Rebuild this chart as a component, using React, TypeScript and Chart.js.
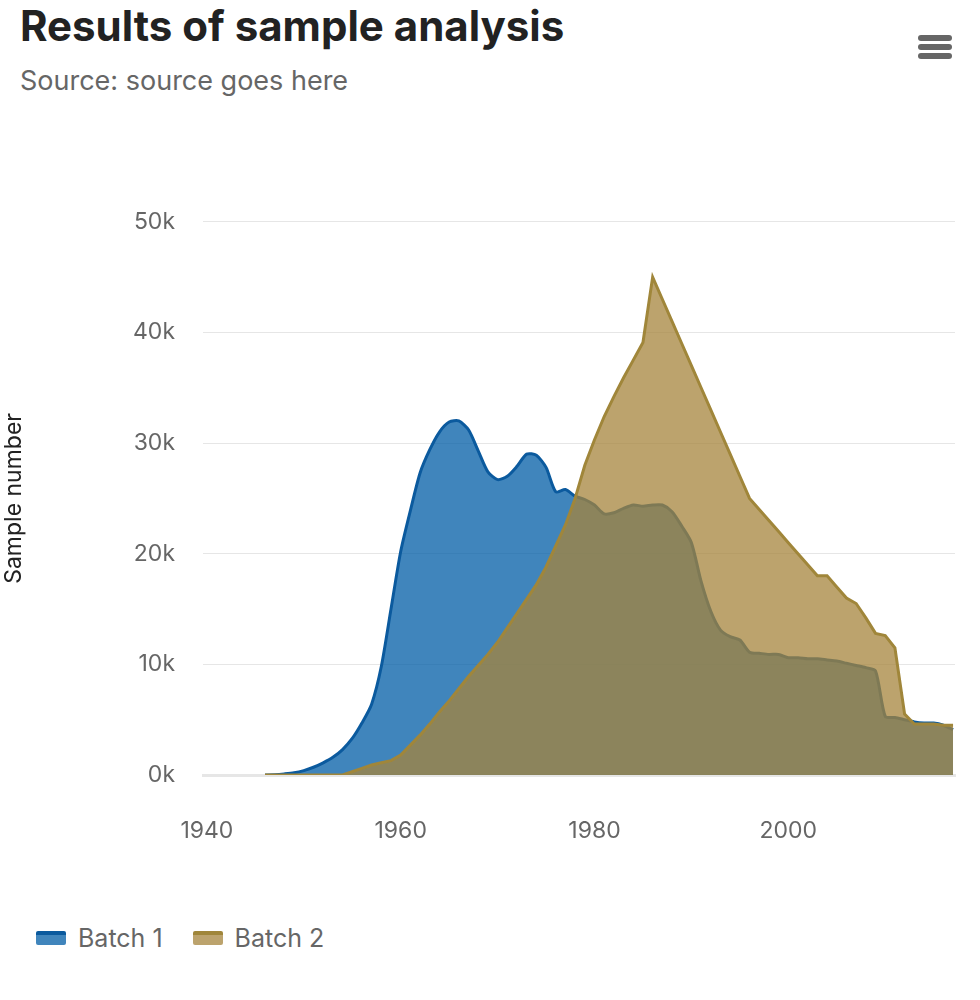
import { useEffect, useRef } from "react";
import { Chart, registerables } from "chart.js";

Chart.register(...registerables);

const years = Array.from({ length: 72 }, (_, i) => 1946 + i);

const batch1 = [
  0, 30, 100, 200, 400, 700, 1100, 1600, 2300, 3300, 4700, 6400, 9800, 15000,
  20200, 23900, 27300, 29400, 31000, 31900, 32000, 31200, 29300, 27400, 26700,
  27000, 27900, 29000, 28900, 27800, 25600, 25800, 25200, 24900, 24400, 23600,
  23700, 24100, 24400, 24300, 24400, 24400, 23800, 22500, 21000, 17500, 14800,
  13100, 12500, 12200, 11100, 11000, 10900, 10900, 10600, 10600, 10500, 10500,
  10400, 10300, 10100, 9900, 9700, 9400, 5300, 5200, 5000, 4800, 4700, 4700,
  4500, 4100
];

const batch2 = [
  0, 0, 0, 0, 0, 0, 0, 0, 0, 300, 600, 900, 1100, 1300, 1800, 2700, 3600, 4600,
  5700, 6700, 7800, 8900, 9900, 10900, 12000, 13300, 14600, 15900, 17200, 18800,
  20700, 22600, 25000, 28000, 30300, 32400, 34200, 35900, 37500, 39100, 45000,
  43000, 41000, 39000, 37000, 35000, 33000, 31000, 29000, 27000, 25000, 24000,
  23000, 22000, 21000, 20000, 19000, 18000, 18000, 17000, 16000, 15500, 14200,
  12800, 12600, 11500, 5500, 4600, 4600, 4600, 4500, 4500
];

const xTicks = [1940, 1960, 1980, 2000];

const font = "Inter, 'Liberation Sans', Arial, sans-serif";

export default function App() {
  const canvasRef = useRef<HTMLCanvasElement | null>(null);

  useEffect(() => {
    const canvas = canvasRef.current;
    if (!canvas) return;
    const chart = new Chart(canvas, {
      type: "line",
      data: {
        datasets: [
          {
            label: "Batch 1",
            data: years.map((x, i) => ({ x, y: batch1[i] })),
            borderColor: "#0b5a9e",
            backgroundColor: "rgba(0,92,166,0.75)",
            borderWidth: 3,
            fill: "origin",
            pointRadius: 0,
            tension: 0.25,
            order: 2
          },
          {
            label: "Batch 2",
            data: years.map((x, i) => ({ x, y: batch2[i] })),
            borderColor: "#a0863a",
            backgroundColor: "rgba(166,132,60,0.75)",
            borderWidth: 3,
            fill: "origin",
            pointRadius: 0,
            tension: 0,
            order: 1
          }
        ]
      },
      options: {
        animation: false,
        responsive: false,
        layout: { padding: { top: 33, right: 25 } },
        plugins: { legend: { display: false }, tooltip: { enabled: false } },
        scales: {
          x: {
            type: "linear",
            min: 1939.6,
            max: 2017.2,
            afterFit: (s) => { s.height = 85; },
            afterBuildTicks: (s) => { s.ticks = xTicks.map((value) => ({ value })); },
            ticks: { color: "#666", font: { family: font, size: 23 }, padding: 34, callback: (v) => String(v) },
            grid: { display: false },
            border: { color: "#e6e6e6", width: 3 }
          },
          y: {
            min: 0,
            max: 50000,
            afterFit: (s) => { s.width = 203; },
            ticks: {
              stepSize: 10000,
              color: "#666",
              padding: 28,
              font: { family: font, size: 23 },
              callback: (v) => `${Number(v) / 1000}k`
            },
            title: { display: true, text: "Sample number", color: "#222", font: { family: font, size: 23 }, padding: { top: 0, bottom: 0 } },
            grid: { color: "#e6e6e6", drawTicks: false },
            border: { display: false }
          }
        }
      }
    });
    return () => chart.destroy();
  }, []);

  const swatch = (fill: string, line: string) => (
    <span style={{ display: "inline-block", width: 30, height: 14, background: fill, borderTop: `4px solid ${line}`, borderRadius: 2, marginRight: 12, boxSizing: "border-box" }} />
  );

  return (
    <div style={{ position: "absolute", left: 0, top: 0, width: 980, height: 1000, background: "#fff", fontFamily: font, overflow: "hidden" }}>
      <div style={{ position: "absolute", left: 20, top: 0, fontSize: 42, fontWeight: "bold", color: "#222" }}>Results of sample analysis</div>
      <div style={{ position: "absolute", left: 20, top: 64, fontSize: 27, color: "#666" }}>Source: source goes here</div>
      <div style={{ position: "absolute", left: 918, top: 35 }}>
        {[0, 1, 2].map((i) => (
          <div key={i} style={{ width: 34, height: 6, borderRadius: 3, background: "#666", marginBottom: 3 }} />
        ))}
      </div>
      <canvas ref={canvasRef} width={980} height={680} style={{ position: "absolute", left: 0, top: 180, width: 980, height: 680, left: 30 - 30 }} />
      <div style={{ position: "absolute", left: 36, top: 923, fontSize: 25, color: "#666", display: "flex", alignItems: "center" }}>
        {swatch("rgba(0,92,166,0.75)", "#0b5a9e")}
        <span style={{ marginRight: 30 }}>Batch 1</span>
        {swatch("rgba(166,132,60,0.75)", "#a0863a")}
        <span>Batch 2</span>
      </div>
    </div>
  );
}
